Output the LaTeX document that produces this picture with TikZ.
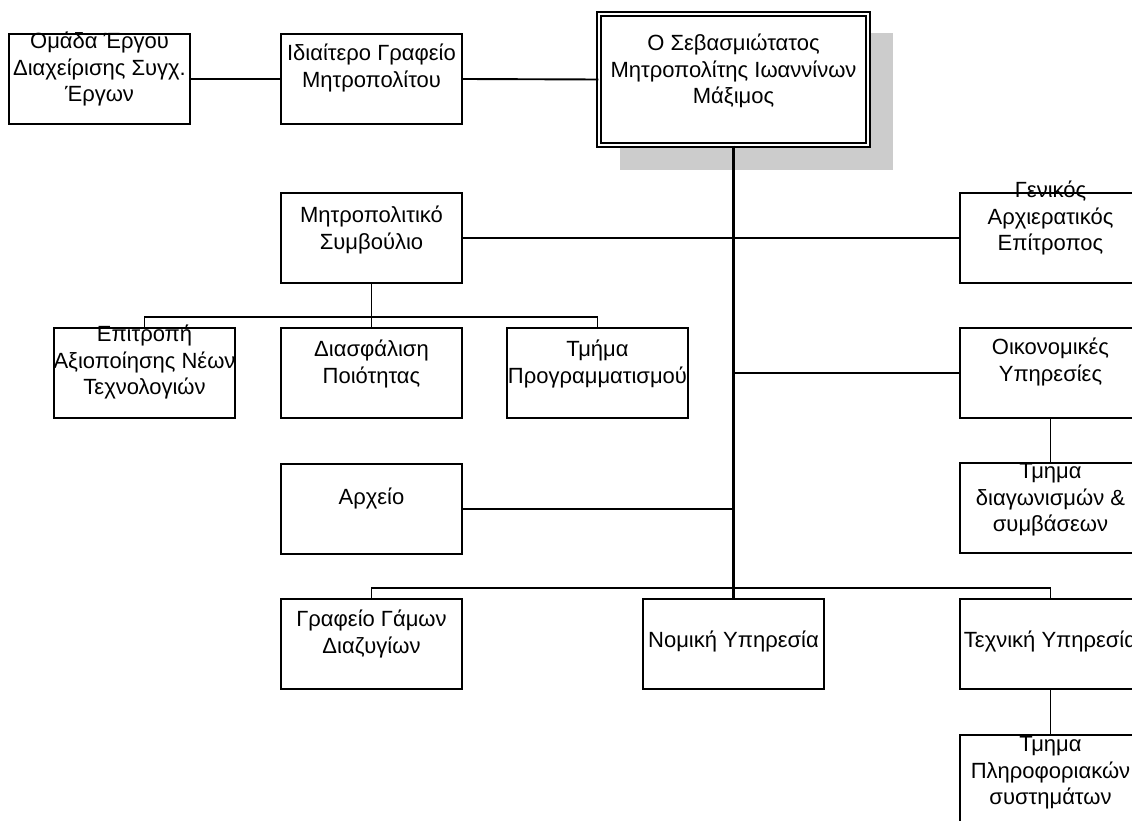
\documentclass[tikz,border=0pt]{standalone}
\usepackage{fontspec}
\setmainfont{Liberation Sans}
\begin{document}
\begin{tikzpicture}[x=1pt,y=-1pt,
  box/.style={draw, line width=1.9pt, minimum width=181pt, minimum height=90pt, inner sep=0pt, fill=white},
  txt/.style={align=center, font=\fontsize{22}{26.5}\selectfont, inner sep=0pt},
  link/.style={line width=1.9pt},
  trunkline/.style={line width=3.2pt}]
\useasboundingbox (0,0) rectangle (1132,821);
\clip (0,0) rectangle (1132,821);
% shadow and main box
\fill[black!20] (620,33) rectangle (893,170);
\node[draw, fill=white, line width=1.5pt, double, double distance=2.2pt, minimum width=269pt, minimum height=131pt, inner sep=0pt] (main) at (733.5,79.5) {};
% boxes
\node[box] (omada) at (99.5,79) {};
\node[box] (idia) at (371.5,79) {};
\node[box] (mitro) at (371.5,238) {};
\node[box] (genikos) at (1050.5,238) {};
\node[box] (epitropi) at (144.5,373) {};
\node[box] (diasf) at (371.5,373) {};
\node[box] (prog) at (597.5,373) {};
\node[box] (oikon) at (1050.5,373) {};
\node[box] (diag) at (1050.5,508) {};
\node[box] (arxeio) at (371.5,509) {};
\node[box] (gamon) at (371.5,644) {};
\node[box] (nomiki) at (733.5,644) {};
\node[box] (texniki) at (1050.5,644) {};
\node[box] (plirof) at (1050.5,780) {};
% connectors
\draw[link] (omada.east) -- (idia.west);
\draw[link] (idia.east) -- (main.west);
\draw[trunkline] (main.south) -- (nomiki.north);
\draw[link] (mitro.east) -- (genikos.west);
\coordinate (bus1) at (371.5,317);
\draw[link] (mitro.south) -- (bus1);
\draw[link] (epitropi.north) |- (bus1) -| (prog.north);
\draw[link] (diasf.north) -- (bus1);
\draw[link] (oikon.west -| main.south) -- (oikon.west);
\draw[link] (oikon.south) -- (diag.north);
\draw[link] (arxeio.east) -- (arxeio.east -| main.south);
\coordinate (bus2) at (733.5,588);
\draw[link] (gamon.north) |- (bus2) -| (texniki.north);
\draw[link] (texniki.south) -- (plirof.north);
% texts
\node[txt] (omada-t) at (99.5,69) {Ομάδα Έργου\\Διαχείρισης Συγχ.\\Έργων};
\node[txt] (idia-t) at (371.5,68) {Ιδιαίτερο Γραφείο\\Μητροπολίτου};
\node[txt] (main-t) at (733.5,71) {Ο Σεβασμιώτατος\\Μητροπολίτης Ιωαννίνων\\Μάξιμος};
\node[txt] (mitro-t) at (371.5,230) {Μητροπολιτικό\\Συμβούλιο};
\node[txt] (genikos-t) at (1050.5,218) {Γενικός\\Αρχιερατικός\\Επίτροπος};
\node[txt] (epitropi-t) at (144.5,362) {Επιτροπή\\Αξιοποίησης Νέων\\Τεχνολογιών};
\node[txt] (diasf-t) at (371.5,364) {Διασφάλιση\\Ποιότητας};
\node[txt] (prog-t) at (597.5,364) {Τμήμα\\Προγραμματισμού};
\node[txt] (oikon-t) at (1050.5,362) {Οικονομικές\\Υπηρεσίες};
\node[txt] (diag-t) at (1050.5,500) {Τμημα\\διαγωνισμών \&\\συμβάσεων};
\node[txt] (arxeio-t) at (371.5,498) {Αρχείο};
\node[txt] (gamon-t) at (371.5,634) {Γραφείο Γάμων\\Διαζυγίων};
\node[txt] (nomiki-t) at (733.5,641) {Νομική Υπηρεσία};
\node[txt] (texniki-t) at (1050.5,641) {Τεχνική Υπηρεσία};
\node[txt] (plirof-t) at (1050.5,773) {Τμημα\\Πληροφοριακών\\συστημάτων};
\end{tikzpicture}
\end{document}
